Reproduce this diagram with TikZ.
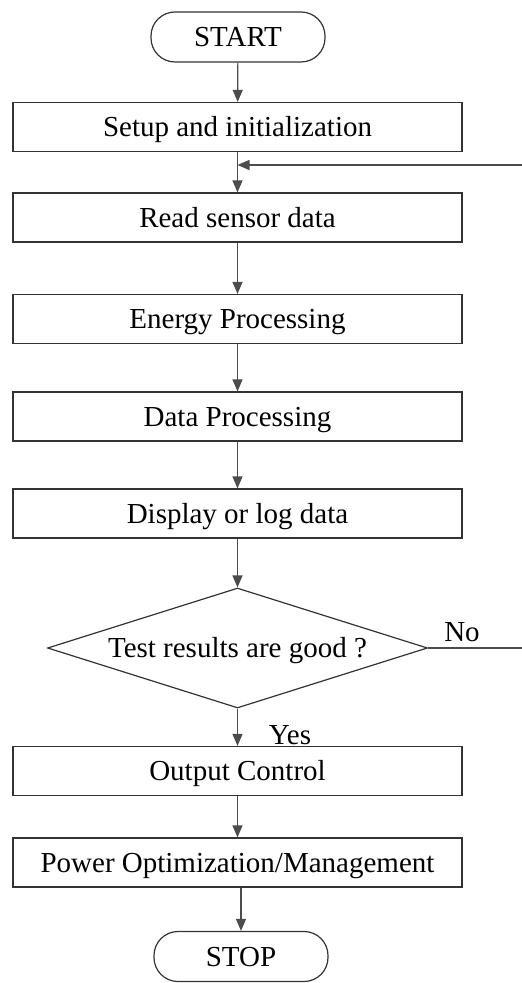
\documentclass[tikz,border=0pt]{standalone}
\usepackage{fontspec}
\setmainfont{Liberation Serif}
\usetikzlibrary{shapes.geometric,arrows.meta}

\begin{document}
\begin{tikzpicture}[x=0.5pt,y=-0.5pt,>={Triangle[width=5pt,length=6pt]},
	every node/.style={font=\fontsize{14.5}{17}\selectfont},
	box/.style={draw=black!80,line width=0.6pt,minimum width=224.5pt,minimum height=24.5pt,inner sep=0pt,text height=9.6pt,text depth=0pt},
	term/.style={draw=black!80,line width=0.6pt,rounded corners=12pt,minimum width=87pt,minimum height=25pt,inner sep=0pt,text height=9.6pt,text depth=0pt},
	test/.style={draw=black!80,line width=0.6pt,diamond,aspect=3.17,minimum width=190pt,minimum height=60pt,inner sep=0pt,text height=9.6pt,text depth=0pt},
	pfeil/.style={->,draw=black!70,line width=0.6pt}]

\useasboundingbox (0,0) rectangle (521,983);

\node[term] (start) at (238,37) {START};
\node[box] (setup) at (237.5,127) {Setup and initialization};
\node[box] (read) at (237.5,217.5) {Read sensor data};
\node[box] (energy) at (237.5,319) {Energy Processing};
\node[box] (data) at (237.5,416.5) {Data Processing};
\node[box] (display) at (237.5,513.5) {Display or log data};
\node[test] (test) at (237.5,648) {Test results are good ?};
\node[box] (output) at (237.5,771) {Output Control};
\node[box] (power) at (237.5,862.5) {Power Optimization/Management};
\node[term] (stop) at (241,956.5) {STOP};

\node[inner sep=0pt] (no) at (462,632) {No};
\node[inner sep=0pt] (yes) at (290,735) {Yes};

\foreach \a/\b in {start/setup,setup/read,read/energy,energy/data,data/display,display/test,test/output,output/power}
	\draw[pfeil] (\a) -- (\b);
\draw[pfeil] (stop.north |- power.south) -- (stop);

% No-Zweig zurueck zum Lesen
\coordinate (back) at (237.5,165);
\draw[pfeil] (test.east) -- ++(96,0) |- (back);

\end{tikzpicture}
\end{document}
